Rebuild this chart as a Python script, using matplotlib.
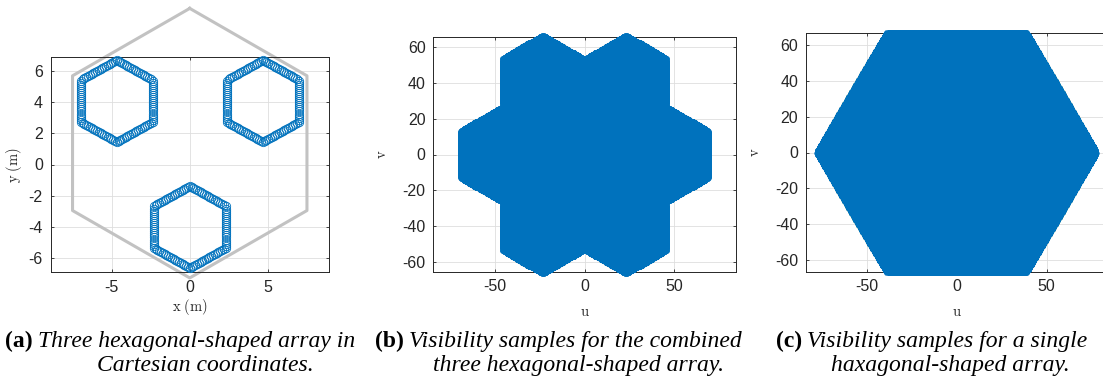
import matplotlib
matplotlib.use('Agg')
import matplotlib.pyplot as plt
import numpy as np

plt.rcParams['font.family'] = 'Liberation Sans'
plt.rcParams['mathtext.fontset'] = 'cm'
plt.rcParams['axes.unicode_minus'] = False

# array geometry, metres
wavelength = 0.2
cluster_centre = [0.0, 1.37]
cluster_offset = 5.39
cluster_angles = [150, 30, -90]
sub_radius = 2.65
sub_per_edge = 20
fence_radius = 8.65
single_radius = 7.8
single_per_edge = 60

# axis setup per panel
xlims = [(-8.9, 8.9), (-84.6, 84.6), (-83.7, 83.7)]
ylims = [(-6.9, 6.9), (-65.4, 65.4), (-66.6, 66.6)]
xticks = [[-5, 0, 5], [-50, 0, 50], [-50, 0, 50]]
yticks = [[-6, -4, -2, 0, 2, 4, 6], [-60, -40, -20, 0, 20, 40, 60], [-60, -40, -20, 0, 20, 40, 60]]
xlabels = [r'$\mathrm{x\ (m)}$', r'$\mathrm{u}$', r'$\mathrm{u}$']
ylabels = [r'$\mathrm{y\ (m)}$', r'$\mathrm{v}$', r'$\mathrm{v}$']
tags = ['(a)', '(b)', '(c)']
captions = [['Three hexagonal-shaped array in', 'Cartesian coordinates.'],
            ['Visibility samples for the combined', 'three hexagonal-shaped array.'],
            ['Visibility samples for a single', 'haxagonal-shaped array.']]

BLUE = '#0072BD'
DARK = '#262626'


def hex_vertices(cx, cy, r, rot):
    ang = np.radians(rot + 60 * np.arange(7))
    return cx + r * np.cos(ang), cy + r * np.sin(ang)


def hex_ring(cx, cy, r, n, rot):
    vx, vy = hex_vertices(cx, cy, r, rot)
    t = np.arange(n) / n
    xs = np.concatenate([vx[k] + t * (vx[k + 1] - vx[k]) for k in range(6)])
    ys = np.concatenate([vy[k] + t * (vy[k + 1] - vy[k]) for k in range(6)])
    return xs, ys


def baselines(x, y):
    u = (x[:, None] - x[None, :]).ravel() / wavelength
    v = (y[:, None] - y[None, :]).ravel() / wavelength
    return u, v


# three sub-arrays
ax_pos, ay_pos = [], []
for a in cluster_angles:
    cx = cluster_centre[0] + cluster_offset * np.cos(np.radians(a))
    cy = cluster_centre[1] + cluster_offset * np.sin(np.radians(a))
    xs, ys = hex_ring(cx, cy, sub_radius, sub_per_edge, 90)
    ax_pos.append(xs)
    ay_pos.append(ys)
ax_pos = np.concatenate(ax_pos)
ay_pos = np.concatenate(ay_pos)
fx, fy = hex_vertices(cluster_centre[0], cluster_centre[1], fence_radius, 90)

u3, v3 = baselines(ax_pos, ay_pos)
sx, sy = hex_ring(0, 0, single_radius, single_per_edge, 0)
u1, v1 = baselines(sx, sy)

fig = plt.figure(figsize=(11.03, 3.84), dpi=100)
W, H = 1103.0, 384.0
boxes = [(50.5, 329, 57, 272), (433.3, 735.7, 37.3, 271.7), (806, 1107.3, 33.3, 271.7)]
axes = []
for (l, r, t, b) in boxes:
    axes.append(fig.add_axes([l / W, (H - b) / H, (r - l) / W, (b - t) / H]))

ax = axes[0]
ax.plot(fx, fy, color='#c2c2c2', lw=2.2, clip_on=False, zorder=2)
ax.plot(ax_pos, ay_pos, 'o', mfc='none', mec=BLUE, ms=6, mew=0.6, clip_on=False, zorder=3)

axes[1].plot(u3, v3, 'o', color=BLUE, ms=3.2, mew=0, clip_on=False, zorder=3)
axes[2].plot(u1, v1, 'o', color=BLUE, ms=3.2, mew=0, clip_on=False, zorder=3)

for i, ax in enumerate(axes):
    ax.set_xlim(xlims[i])
    ax.set_ylim(ylims[i])
    ax.set_xticks(xticks[i])
    ax.set_yticks(yticks[i])
    ax.grid(True, color='#dedede', lw=0.6)
    ax.set_axisbelow(True)
    ax.tick_params(direction='in', length=2.5, width=0.6, top=True, right=True,
                   labelsize=11.5, colors=DARK, pad=5.5)
    for s in ax.spines.values():
        s.set_color(DARK)
        s.set_linewidth(0.7)
    ax.set_xlabel(xlabels[i], fontsize=10.5, color=DARK)
    ax.set_ylabel(ylabels[i], fontsize=10.5, color=DARK)

axes[0].xaxis.set_label_coords(0.5, -0.115)
axes[0].yaxis.set_label_coords(-0.095, 0.5)
axes[1].xaxis.set_label_coords(0.5, -0.14)
axes[1].yaxis.set_label_coords(-0.145, 0.5)
axes[2].xaxis.set_label_coords(0.5, -0.14)
axes[2].yaxis.set_label_coords(-0.145, 0.5)

# sub-captions
line1_x = [5, 375, 776]
line2_x = [97, 433, 831]
fig.canvas.draw()
renderer = fig.canvas.get_renderer()
for i in range(3):
    t = fig.text(line1_x[i] / W, (H - 347) / H, tags[i], family='Liberation Serif',
                 weight='bold', fontsize=17, va='baseline')
    bb = t.get_window_extent(renderer)
    fig.text((bb.x1 + 5) / W, (H - 347) / H, captions[i][0], family='Liberation Serif',
             style='italic', fontsize=17, va='baseline')
    fig.text(line2_x[i] / W, (H - 371) / H, captions[i][1], family='Liberation Serif',
             style='italic', fontsize=17, va='baseline')

fig.savefig('out.png', dpi=100)
